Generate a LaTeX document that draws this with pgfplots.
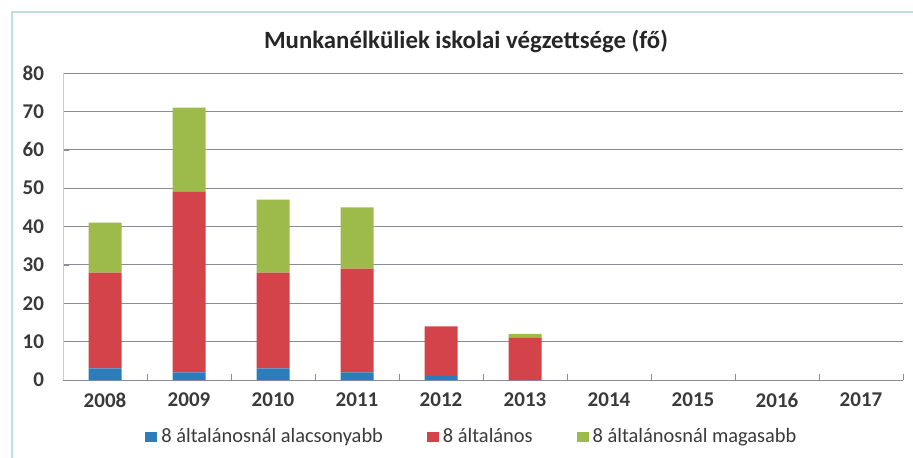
\documentclass[border=0pt]{standalone}
\usepackage{pgfplots}
\pgfplotsset{compat=1.18}
\usepackage{fontspec}
\setmainfont{Carlito}
\definecolor{cblue}{HTML}{2A7DB8}
\definecolor{cred}{HTML}{D4424A}
\definecolor{cgreen}{HTML}{9CBB4A}
\definecolor{tickc}{HTML}{3A3A3A}
\definecolor{gridc}{HTML}{8A8A98}
\begin{document}
\begin{tikzpicture}
\useasboundingbox (0pt,0pt) rectangle (456.5pt,228.5pt);
\draw[color=gridc!70!cyan!40!white, line width=1pt] (6pt,-3pt) -- (6pt,222.5pt) -- (460pt,222.5pt);
\node[font=\bfseries\fontsize{12.4}{14}\selectfont, text=black!85] at (233pt,208pt) {Munkanélküliek iskolai végzettsége (fő)};
\begin{axis}[
  at={(31.5pt,38.5pt)}, anchor=south west,
  scale only axis, width=420pt, height=153.5pt,
  ybar stacked, bar width=16.5pt,
  xmin=-0.5, xmax=9.5, ymin=0, ymax=80,
  xtick={0,...,9},
  xticklabels={2008,2009,2010,2011,2012,2013,2014,2015,2016,2017},
  minor xtick={-0.5,0.5,...,9.5},
  ytick={0,10,...,80},
  ymajorgrids, grid style={gridc, line width=0.5pt},
  axis x line*=bottom, axis y line*=left,
  x axis line style={gridc},
  y axis line style={gridc!60!cyan!50!white},
  major x tick style={draw=none},
  minor x tick style={gridc},
  minor tick length=3pt,
  major y tick style={gridc}, major tick length=3pt,
  tick label style={font=\bfseries\fontsize{10.5}{12}\selectfont, text=tickc},
  /pgf/number format/assume math mode=true,
  xticklabel style={yshift=-3pt},
  yticklabel style={xshift=-6pt},
  legend columns=3,
  legend style={at={(0.488,-0.186)}, anchor=center, draw=none, fill=none,
    font=\fontsize{10.2}{12}\selectfont, text=tickc,
    /tikz/every even column/.append style={column sep=20pt}},
  legend image code/.code={\fill[#1] (0pt,-2.5pt) rectangle (6pt,2.5pt);},
]
\addplot+[draw=none, fill=cblue] coordinates {(0,3) (1,2) (2,3) (3,2) (4,1) (5,0) (6,0) (7,0) (8,0) (9,0)};
\addplot+[draw=none, fill=cred] coordinates {(0,25) (1,47) (2,25) (3,27) (4,13) (5,11) (6,0) (7,0) (8,0) (9,0)};
\addplot+[draw=none, fill=cgreen] coordinates {(0,13) (1,22) (2,19) (3,16) (4,0) (5,1) (6,0) (7,0) (8,0) (9,0)};
\legend{8 általánosnál alacsonyabb, 8 általános, 8 általánosnál magasabb}
\end{axis}
\end{tikzpicture}
\end{document}
